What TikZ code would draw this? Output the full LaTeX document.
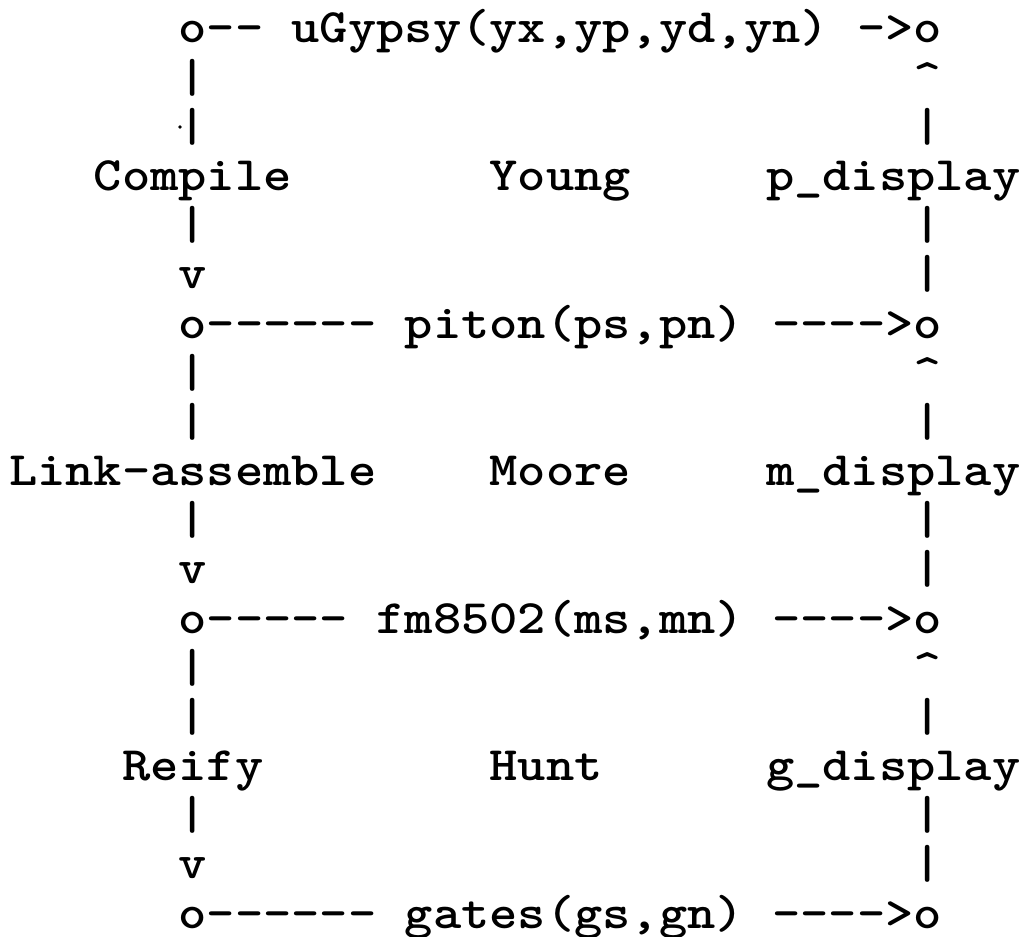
\documentclass[tikz,border=0pt]{standalone}
\usepackage{graphicx}
\tikzset{
  ch/.style={inner sep=0pt, outer sep=0pt, anchor=base west,
    font=\fontsize{24}{24}\selectfont\ttfamily\bfseries},
}
% #1 name, #2 column, #3 text row, #4 text
\newcommand\AT[4]{\node[ch] (#1) at ({9+(#2)*28.27},{43+((#3)-1)*49.17}) {\scalebox{1.1218}[1]{#4}};}
% display words sit a little right of the grid
\newcommand\DW[3]{\node[ch] (#1) at (766,{43+((#2)-1)*49.17}) {\scalebox{1.1218}[1]{#3}};}
\begin{document}
\begin{tikzpicture}[x=0.5pt,y=-0.5pt]
\fill[white] (0,0) rectangle (1036,936);
\useasboundingbox (0,0) rectangle (1036,936);
% ---- row 1
\AT{o1l}{6}{1}{o}
\foreach \c in {7,8} {\AT{d1-\c}{\c}{1}{-}}
\AT{ugypsy}{10}{1}{uGypsy(yx,yp,yd,yn)}
\AT{d1-30}{30}{1}{-}
\AT{o1r}{31}{1}{>o}
% rows 2-6
\AT{l2}{6}{2}{|}  \AT{r2}{32}{2}{\textasciicircum}
\AT{l3}{6}{3}{|}  \AT{r3}{32}{3}{|}
\fill (180,127) circle[radius=0.9pt];
\AT{compile}{3}{4}{Compile}
\AT{young}{17}{4}{Young}
\DW{pdisp}{4}{p\_display}
\AT{l5}{6}{5}{|}  \AT{r5}{32}{5}{|}
\AT{l6}{6}{6}{v}  \AT{r6}{32}{6}{|}
% ---- row 7
\AT{o7l}{6}{7}{o}
\foreach \c in {7,...,12} {\AT{d7-\c}{\c}{7}{-}}
\AT{piton}{14}{7}{piton(ps,pn)}
\foreach \c in {27,...,30} {\AT{e7-\c}{\c}{7}{-}}
\AT{o7r}{31}{7}{>o}
% rows 8-12
\AT{l8}{6}{8}{|}  \AT{r8}{32}{8}{\textasciicircum}
\AT{l9}{6}{9}{|}  \AT{r9}{32}{9}{|}
\AT{link}{0}{10}{Link-assemble}
\AT{moore}{17}{10}{Moore}
\DW{mdisp}{10}{m\_display}
\AT{l11}{6}{11}{|}  \AT{r11}{32}{11}{|}
\AT{l12}{6}{12}{v}  \AT{r12}{32}{12}{|}
% ---- row 13
\AT{o13l}{6}{13}{o}
\foreach \c in {7,...,11} {\AT{d13-\c}{\c}{13}{-}}
\AT{fm}{13}{13}{fm8502(ms,mn)}
\foreach \c in {27,...,30} {\AT{e13-\c}{\c}{13}{-}}
\AT{o13r}{31}{13}{>o}
% rows 14-18
\AT{l14}{6}{14}{|}  \AT{r14}{32}{14}{\textasciicircum}
\AT{l15}{6}{15}{|}  \AT{r15}{32}{15}{|}
\AT{reify}{4}{16}{Reify}
\AT{hunt}{17}{16}{Hunt}
\DW{gdisp}{16}{g\_display}
\AT{l17}{6}{17}{|}  \AT{r17}{32}{17}{|}
\AT{l18}{6}{18}{v}  \AT{r18}{32}{18}{|}
% ---- row 19
\AT{o19l}{6}{19}{o}
\foreach \c in {7,...,12} {\AT{d19-\c}{\c}{19}{-}}
\AT{gates}{14}{19}{gates(gs,gn)}
\foreach \c in {27,...,30} {\AT{e19-\c}{\c}{19}{-}}
\AT{o19r}{31}{19}{>o}
\end{tikzpicture}
\end{document}
